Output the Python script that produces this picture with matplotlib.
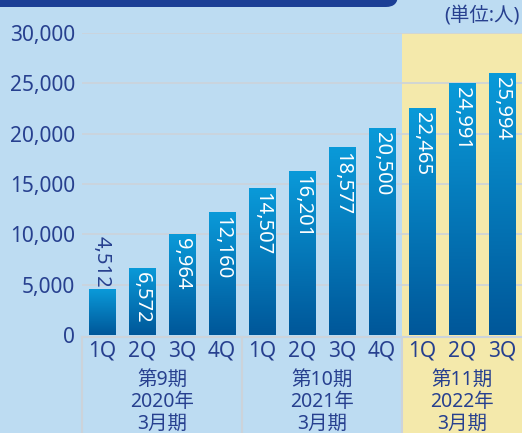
import numpy as np
import matplotlib.pyplot as plt
from matplotlib.colors import LinearSegmentedColormap
from matplotlib.patches import FancyBboxPatch, Rectangle
import matplotlib.transforms as mtransforms

plt.rcParams['font.family'] = ['Noto Sans', 'Noto Sans CJK JP', 'DejaVu Sans']

quarters = ['1Q', '2Q', '3Q', '4Q', '1Q', '2Q', '3Q', '4Q', '1Q', '2Q', '3Q']
members = [4512, 6572, 9964, 12160, 14507, 16201, 18577, 20500, 22465, 24991, 25994]
periods = ['第9期\n2020年\n3月期', '第10期\n2021年\n3月期', '第11期\n2022年\n3月期']
period_bounds = [(-0.5, 3.5), (3.5, 7.5), (7.5, 10.5)]
yticks = [0, 5000, 10000, 15000, 20000, 25000, 30000]

bg = '#bddcf2'
navy = '#27408f'
grid_col = '#ccd3da'
yellow = '#f4e9ab'
bar_cmap = LinearSegmentedColormap.from_list('bar', ['#005799', '#0a9ad9'])

fig = plt.figure(figsize=(5.22, 4.33), dpi=100, facecolor=bg)
ax = fig.add_axes([82 / 522, 98 / 433, 440 / 522, 302 / 433])
ax.set_facecolor('none')

x = np.arange(len(members))
width = 0.675

# highlighted current period
ax.add_patch(Rectangle((period_bounds[2][0], -0.5), period_bounds[2][1] - period_bounds[2][0], 1.5,
                       transform=mtransforms.blended_transform_factory(ax.transData, ax.transAxes),
                       facecolor=yellow, edgecolor='none', zorder=0, clip_on=False))

for t in yticks[1:]:
    ax.axhline(t, color=grid_col, lw=1.2, zorder=1)

grad = np.linspace(0, 1, 256).reshape(-1, 1)
bars = ax.bar(x, members, width=width, color='none', zorder=2)
for b, v in zip(bars, members):
    x0 = b.get_x()
    ax.imshow(grad, cmap=bar_cmap, origin='lower', aspect='auto', zorder=2,
              extent=(x0, x0 + b.get_width(), 0, v))
    fs = 14.5
    if v < 6000:
        ax.text(b.get_x() + b.get_width() / 2, v + 150, f'{v:,}', rotation=-90,
                ha='center', va='bottom', color=navy, fontsize=fs, zorder=3)
    else:
        ax.text(b.get_x() + b.get_width() / 2, v - 350, f'{v:,}', rotation=-90,
                ha='center', va='top', color='white', fontsize=fs, zorder=3)

ax.set_xlim(-0.5, 10.5)
ax.set_ylim(0, 30000)
for s in ax.spines.values():
    s.set_visible(False)
ax.set_yticks(yticks)
ax.set_yticklabels([f'{t:,}' for t in yticks])
ax.tick_params(axis='y', length=0, pad=5, labelsize=15, labelcolor=navy)
ax.set_xticks([])

trans = mtransforms.blended_transform_factory(ax.transData, ax.transAxes)
ax.plot([-0.5, 10.5], [-0.006, -0.006], transform=trans, color=grid_col, lw=1.5, clip_on=False)
for x0, x1 in period_bounds:
    ax.plot([x0, x0], [-0.006, -0.5], transform=trans, color=grid_col, lw=1.5, clip_on=False)

for xi, q in zip(x, quarters):
    ax.text(xi, -0.053, q, transform=trans, ha='center', va='center', fontsize=15, color=navy)

for (x0, x1), p in zip(period_bounds, periods):
    ax.text((x0 + x1) / 2, -0.222, p, transform=trans, ha='center', va='center',
            fontsize=14, color=navy, linespacing=1.12)

# banner at the top
fig.add_artist(FancyBboxPatch((-0.3, 4.33 - 0.07), 4.28, 0.5,
                              boxstyle='round,pad=0,rounding_size=0.12',
                              transform=fig.dpi_scale_trans, facecolor='#1c3f96',
                              edgecolor='none'))
fig.text(520 / 522, 1 - 16 / 433, '(単位:人)', ha='right', va='center', fontsize=14, color=navy)

fig.savefig('out.png', dpi=100, facecolor=bg)
